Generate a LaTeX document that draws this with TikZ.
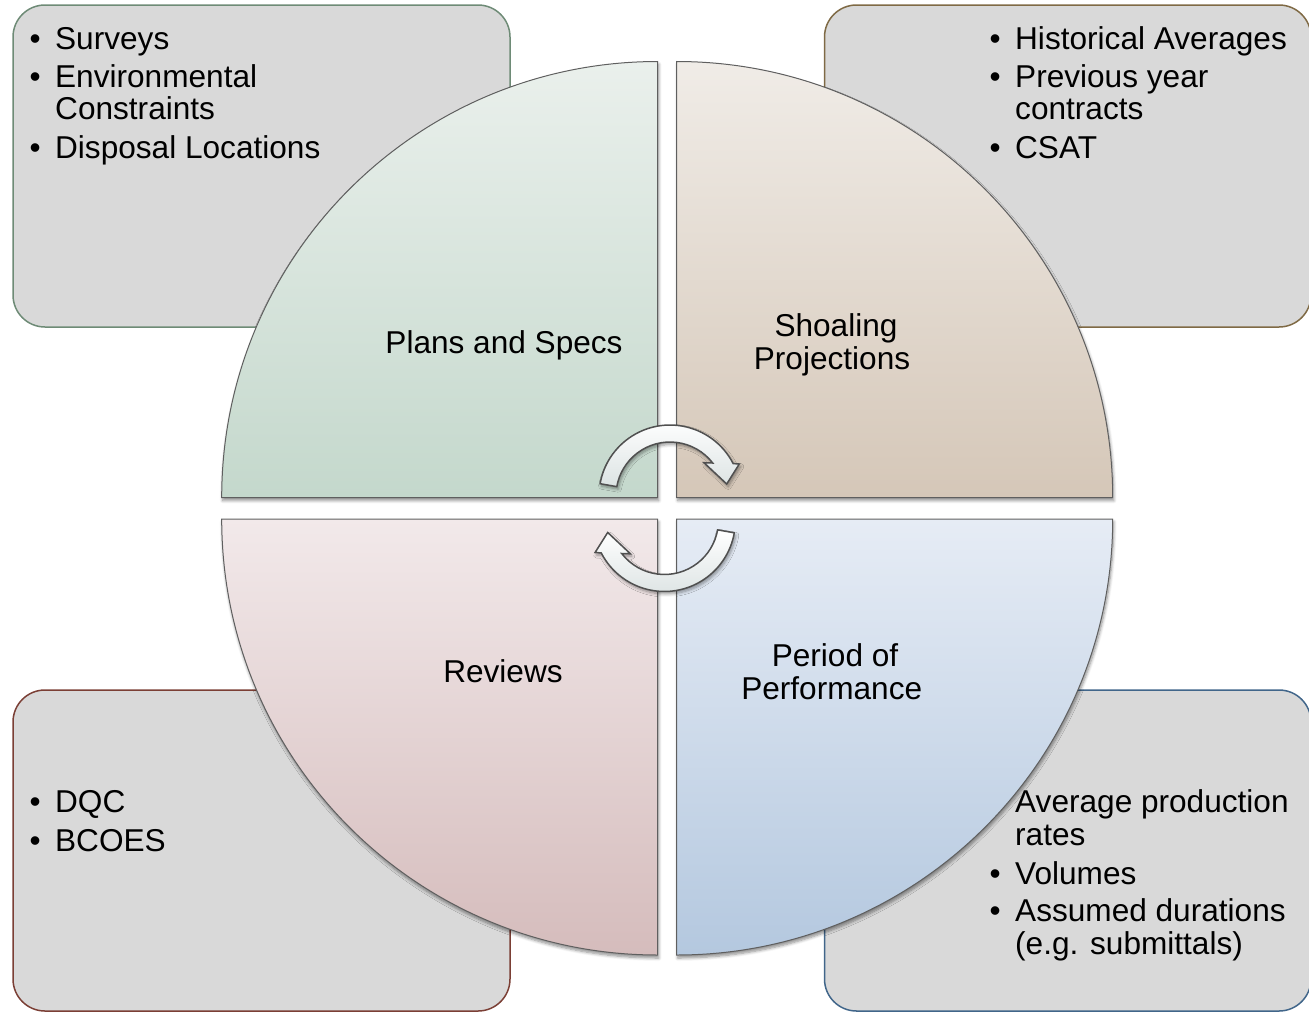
\documentclass[tikz,border=0pt]{standalone}
\usepackage{fontspec}
\setmainfont{Liberation Sans}
\usetikzlibrary{shadows.blur}

\definecolor{boxfill}{HTML}{D9D9D9}
\definecolor{tlborder}{HTML}{6E8B76}
\definecolor{trborder}{HTML}{7F6A45}
\definecolor{blborder}{HTML}{7B3F35}
\definecolor{brborder}{HTML}{41668A}
\definecolor{quadline}{HTML}{5F5F5F}
\definecolor{tltop}{HTML}{EAF0EC}
\definecolor{tlbot}{HTML}{C4D8CC}
\definecolor{trtop}{HTML}{F0ECE7}
\definecolor{trbot}{HTML}{D5C7B8}
\definecolor{bltop}{HTML}{F2E9EA}
\definecolor{blbot}{HTML}{D5BCBC}
\definecolor{brtop}{HTML}{E6ECF5}
\definecolor{brbot}{HTML}{B4C8DF}
\definecolor{arrline}{HTML}{505050}
\definecolor{arrbot}{HTML}{DCE3E3}

\newcommand{\bul}{\makebox[25.5pt][l]{•}}

\begin{document}
\begin{tikzpicture}[x=1pt,y=-1pt,
  infobox/.style={rounded corners=32pt, fill=boxfill, line width=1.5pt},
  quad/.style={draw=quadline, line width=1pt,
    blur shadow={shadow xshift=1pt, shadow yshift=-3pt, shadow blur radius=3pt, shadow blur steps=6, shadow opacity=45}},
  cyclearrow/.style={draw=arrline, line width=1.5pt, top color=white, bottom color=arrbot,
    blur shadow={shadow xshift=1.5pt, shadow yshift=-2.5pt, shadow blur radius=3pt, shadow blur steps=6, shadow opacity=40}},
  txt/.style={inner sep=0pt, font=\fontsize{31.6}{32}\selectfont, text=black},
  lbl/.style={txt, anchor=base},
  itm/.style={txt, anchor=base west},
]
\useasboundingbox (0,0) rectangle (1309,1012);

% outer info boxes
\path[infobox, draw=tlborder] (13,5) rectangle (510,327);
\path[infobox, draw=trborder] (824.5,5) rectangle (1311,327);
\path[infobox, draw=blborder] (13,690) rectangle (510,1011);
\path[infobox, draw=brborder] (824.5,690) rectangle (1311,1011);

% quadrants
\path[quad, top color=tltop, bottom color=tlbot]
  (657.7,497.5) -- (221.7,497.5) arc[start angle=180, end angle=270, radius=436] -- cycle;
\path[quad, top color=trtop, bottom color=trbot]
  (676.7,497.5) -- (676.7,61.5) arc[start angle=270, end angle=360, radius=436] -- cycle;
\path[quad, top color=bltop, bottom color=blbot]
  (657.7,519) -- (657.7,955) arc[start angle=90, end angle=180, radius=436] -- cycle;
\path[quad, top color=brtop, bottom color=brbot]
  (676.7,519) -- (1112.7,519) arc[start angle=0, end angle=90, radius=436] -- cycle;

% circular arrows
\path[cyclearrow] (600.1,483.7) arc[start angle=190, end angle=332.8, radius=71]
  -- (739.3,464) -- (726.7,484) -- (704,462.7) -- (712.7,463)
  arc[start angle=322.3, end angle=190, radius=54] -- cycle;
\begin{scope}[rotate around={180:(667.2,508.25)}]
\path[cyclearrow] (600.1,483.7) arc[start angle=190, end angle=332.8, radius=71]
  -- (739.3,464) -- (726.7,484) -- (704,462.7) -- (712.7,463)
  arc[start angle=322.3, end angle=190, radius=54] -- cycle;
\end{scope}

% quadrant labels
\node[lbl] (plans) at (504,353.3) {Plans and Specs};
\node[lbl] (shoal1) at (836,336.7) {Shoaling};
\node[lbl] (shoal2) at (832,369.3) {Projections};
\node[lbl] (reviews) at (503,682.7) {Reviews};
\node[lbl] (perf1) at (835,666) {Period of};
\node[lbl] (perf2) at (831.7,699) {Performance};

% top-left list
\node[itm] (tl1) at (29.5,49.3) {\bul Surveys};
\node[itm] (tl2) at (29.5,87.3) {\bul Environmental};
\node[itm] (tl3) at (55,119.3) {Constraints};
\node[itm] (tl4) at (29.5,158.3) {\bul Disposal Locations};

% top-right list
\node[itm] (tr1) at (989.5,49.3) {\bul Historical Averages};
\node[itm] (tr2) at (989.5,87.3) {\bul Previous year};
\node[itm] (tr3) at (1015,119.3) {contracts};
\node[itm] (tr4) at (989.5,158.3) {\bul CSAT};

% bottom-left list
\node[itm] (bl1) at (29.5,812.7) {\bul DQC};
\node[itm] (bl2) at (29.5,851) {\bul BCOES};

% bottom-right list
\node[itm] (br1) at (1015,812.7) {Average production};
\node[itm] (br2) at (1015,845.7) {rates};
\node[itm] (br3) at (989.5,884) {\bul Volumes};
\node[itm] (br4) at (989.5,921.7) {\bul Assumed durations};
\node[itm] (br5) at (1015,954) {(e.g. submittals)};
\end{tikzpicture}
\end{document}
